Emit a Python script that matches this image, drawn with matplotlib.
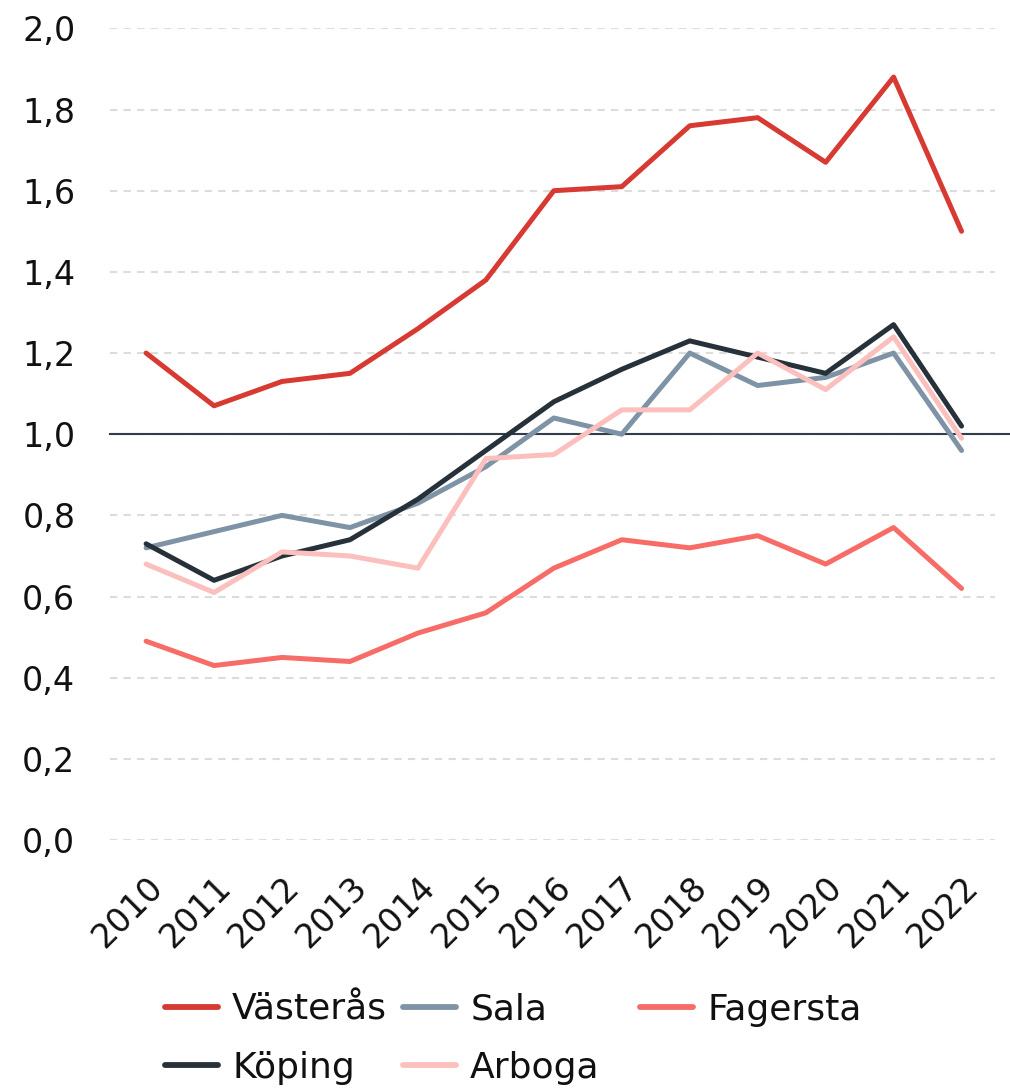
import matplotlib.pyplot as plt

years = ['2010', '2011', '2012', '2013', '2014', '2015', '2016',
         '2017', '2018', '2019', '2020', '2021', '2022']
vasteras = [1.20, 1.07, 1.13, 1.15, 1.26, 1.38, 1.60, 1.61, 1.76, 1.78, 1.67, 1.88, 1.50]
sala = [0.72, 0.76, 0.80, 0.77, 0.83, 0.92, 1.04, 1.00, 1.20, 1.12, 1.14, 1.20, 0.96]
fagersta = [0.49, 0.43, 0.45, 0.44, 0.51, 0.56, 0.67, 0.74, 0.72, 0.75, 0.68, 0.77, 0.62]
koping = [0.73, 0.64, 0.70, 0.74, 0.84, 0.96, 1.08, 1.16, 1.23, 1.19, 1.15, 1.27, 1.02]
arboga = [0.68, 0.61, 0.71, 0.70, 0.67, 0.94, 0.95, 1.06, 1.06, 1.20, 1.11, 1.24, 0.99]

series = [('Västerås', vasteras, '#d63a32'),
          ('Sala', sala, '#7f93a6'),
          ('Fagersta', fagersta, '#f86c68'),
          ('Köping', koping, '#26313a'),
          ('Arboga', arboga, '#fbbfbd')]

plt.rcParams['font.family'] = ['DejaVu Sans']
plt.rcParams['text.color'] = '#111111'

fig = plt.figure(figsize=(10.1, 10.91), dpi=100)
ax = fig.add_axes([0.109, 0.230, 0.876, 0.744])

x = list(range(len(years)))
lines = {}
for name, vals, col in series:
    lines[name], = ax.plot(x, vals, color=col, lw=3.6, label=name,
                           solid_capstyle='round', solid_joinstyle='round', zorder=3)

ax.axhline(1.0, xmin=0, xmax=1.018, color='#333d47', lw=1.5, clip_on=False, zorder=2)

ax.set_ylim(0, 2.0)
ax.set_xlim(-0.53, 12.49)
ax.set_yticks([i * 0.2 for i in range(11)])
ax.set_yticklabels([f'{i * 0.2:.1f}'.replace('.', ',') for i in range(11)], fontsize=24,
                   color='#111111')
ax.set_xticks(x)
ax.set_xticklabels(years, fontsize=24, rotation=45, ha='right', rotation_mode='anchor',
                   color='#111111')
ax.tick_params(axis='y', length=0, pad=25)
ax.tick_params(axis='x', length=0, pad=22)
ax.yaxis.grid(True, ls=(0, (3.5, 3)), color='#dcdcdc', lw=1.5)
ax.set_axisbelow(True)
for s in ax.spines.values():
    s.set_visible(False)

# legend in three columns, filled row by row
cols = [(['Västerås', 'Köping'], 165), (['Sala', 'Arboga'], 403), (['Fagersta'], 640)]
W, H = 1010, 1091
for names, px in cols:
    leg = fig.legend([lines[n] for n in names], names, loc='upper left',
                     bbox_to_anchor=(px / W, 1 - 993 / H), frameon=False,
                     fontsize=26, handlelength=1.47, handletextpad=0.39,
                     labelspacing=0.66, borderpad=0, borderaxespad=0)
    for h in leg.get_lines():
        h.set_linewidth(4.2)

plt.savefig('out.png', dpi=100)
